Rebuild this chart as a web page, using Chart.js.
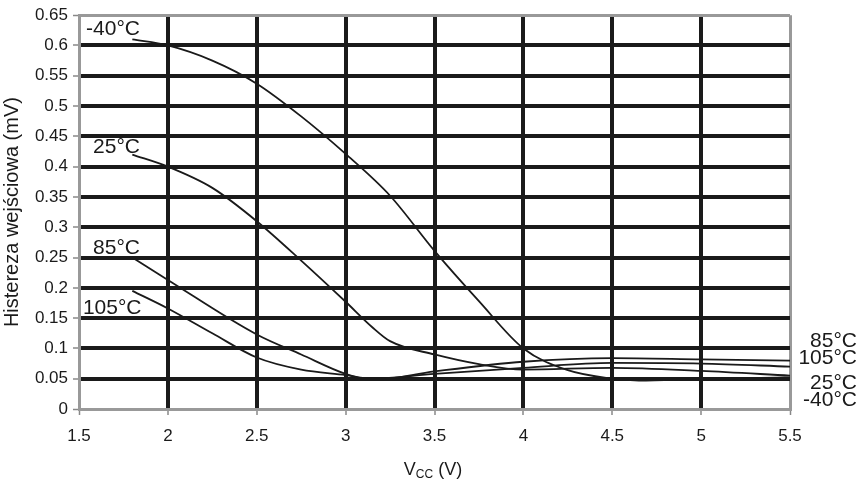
<!DOCTYPE html>
<html>
<head>
<meta charset="utf-8">
<script src="https://cdn.jsdelivr.net/npm/chart.js@4"></script>
<style>
  html, body { margin: 0; padding: 0; background: #fff; }
  #wrap { width: 859px; height: 480px; }
</style>
</head>
<body>
<div id="wrap"><canvas id="chart" width="859" height="480"></canvas></div>
<script>
/* eslint-disable no-undef */

// Données (Vcc en V, hystérésis en mV)
const vcc40 = [1.8, 2.0, 2.25, 2.5, 2.75, 3.0, 3.25, 3.5, 3.75, 4.0, 4.25, 4.5, 4.65, 5.0, 5.5]
const hyst40 = [0.61, 0.60, 0.575, 0.537, 0.483, 0.421, 0.352, 0.261, 0.178, 0.10, 0.064, 0.05, 0.047, 0.05, 0.052]

const vcc25 = [1.8, 2.0, 2.25, 2.5, 2.75, 3.0, 3.15, 3.25, 3.5, 3.75, 4.0, 4.5, 5.0, 5.5]
const hyst25 = [0.42, 0.40, 0.365, 0.31, 0.245, 0.177, 0.135, 0.112, 0.09, 0.074, 0.065, 0.068, 0.063, 0.055]

const vcc85 = [1.8, 2.0, 2.5, 2.75, 3.0, 3.15, 3.5, 4.0, 4.5, 5.0, 5.5]
const hyst85 = [0.25, 0.213, 0.123, 0.09, 0.058, 0.048, 0.062, 0.078, 0.084, 0.082, 0.08]

const vcc105 = [1.8, 2.0, 2.25, 2.5, 2.75, 3.0, 3.15, 3.5, 4.0, 4.5, 5.0, 5.5]
const hyst105 = [0.195, 0.166, 0.125, 0.085, 0.065, 0.056, 0.05, 0.058, 0.068, 0.076, 0.075, 0.07]

const seriesNames = ["-40°C", "25°C", "85°C", "105°C"]

// Étiquettes des courbes : [texte, x, y] à gauche, [texte, y] à droite
const leftLabels = [["-40°C", 1.54, 0.627], ["25°C", 1.579, 0.432], ["85°C", 1.579, 0.265], ["105°C", 1.522, 0.166]]
const rightLabels = [["85°C", 0.112], ["105°C", 0.084], ["25°C", 0.042], ["-40°C", 0.015]]

const FONT = "'Liberation Sans', Arial, sans-serif"

function toPoints(xs, ys) {
  return xs.map((x, i) => ({ x: x, y: ys[i] }))
}

const curves = [toPoints(vcc40, hyst40), toPoints(vcc25, hyst25), toPoints(vcc85, hyst85), toPoints(vcc105, hyst105)]

// Plugin pour les textes des courbes et le titre de l'axe X avec indice
const textPlugin = {
  id: "textPlugin",
  afterDraw(chart) {
    const ctx = chart.ctx
    const xs = chart.scales.x
    const ys = chart.scales.y
    ctx.save()
    ctx.fillStyle = "#1a1a1a"
    ctx.font = "21px " + FONT
    ctx.textBaseline = "middle"
    ctx.textAlign = "left"
    leftLabels.forEach(l => {
      ctx.fillText(l[0], xs.getPixelForValue(l[1]), ys.getPixelForValue(l[2]))
    })
    ctx.textAlign = "right"
    rightLabels.forEach(l => {
      ctx.fillText(l[0], 857, ys.getPixelForValue(l[1]))
    })

    // Titre de l'axe X : V_CC (V)
    const cx = 433
    const ty = 475
    ctx.textAlign = "left"
    ctx.textBaseline = "alphabetic"
    ctx.font = "18px " + FONT
    const wV = ctx.measureText("V").width
    const wEnd = ctx.measureText(" (V)").width
    ctx.font = "12px " + FONT
    const wCC = ctx.measureText("CC").width
    const x0 = cx - (wV + wCC + wEnd) / 2
    ctx.font = "18px " + FONT
    ctx.fillText("V", x0, ty)
    ctx.font = "12px " + FONT
    ctx.fillText("CC", x0 + wV, ty + 3)
    ctx.font = "18px " + FONT
    ctx.fillText(" (V)", x0 + wV + wCC, ty)
    ctx.restore()
  }
}

const ctx = document.getElementById("chart").getContext("2d")

new Chart(ctx, {
  type: "line",
  data: {
    datasets: curves.map((pts, i) => ({
      label: seriesNames[i],
      data: pts,
      borderColor: "#1a1a1a",
      borderWidth: 1.8,
      pointRadius: 0,
      fill: false,
      cubicInterpolationMode: "monotone"
    }))
  },
  options: {
    responsive: false,
    animation: false,
    layout: { padding: { top: 9, right: 69, left: 0, bottom: 0 } },
    plugins: {
      legend: { display: false },
      tooltip: { enabled: false }
    },
    scales: {
      x: {
        type: "linear",
        min: 1.5,
        max: 5.5,
        ticks: {
          stepSize: 0.5,
          color: "#1a1a1a",
          font: { family: FONT, size: 17 },
          padding: 11,
          callback: v => parseFloat(v.toFixed(1)).toString()
        },
        grid: {
          color: c => (c.tick.value === 1.5 || c.tick.value === 5.5) ? "#999" : "#1a1a1a",
          lineWidth: c => (c.tick.value === 1.5 || c.tick.value === 5.5) ? 3 : 4,
          tickColor: "#888",
          tickLength: 6,
          tickWidth: 1.5
        },
        border: { color: "#999", width: 3 },
        afterFit: s => { s.height = 71 }
      },
      y: {
        min: 0,
        max: 0.65,
        ticks: {
          stepSize: 0.05,
          color: "#1a1a1a",
          font: { family: FONT, size: 17 },
          padding: 5,
          callback: v => parseFloat(v.toFixed(2)).toString()
        },
        grid: {
          color: c => (c.tick.value === 0 || Math.abs(c.tick.value - 0.65) < 1e-6) ? "#999" : "#1a1a1a",
          lineWidth: c => (c.tick.value === 0 || Math.abs(c.tick.value - 0.65) < 1e-6) ? 3 : 4,
          tickColor: "#888",
          tickLength: 6,
          tickWidth: 1.5
        },
        border: { color: "#999", width: 3 },
        title: {
          display: true,
          text: "Histereza wejściowa (mV)",
          color: "#1a1a1a",
          font: { family: FONT, size: 20 },
          padding: { top: 0, bottom: 0 }
        },
        afterFit: s => { s.width = 79 }
      }
    }
  },
  plugins: [textPlugin]
})
</script>
</body>
</html>
